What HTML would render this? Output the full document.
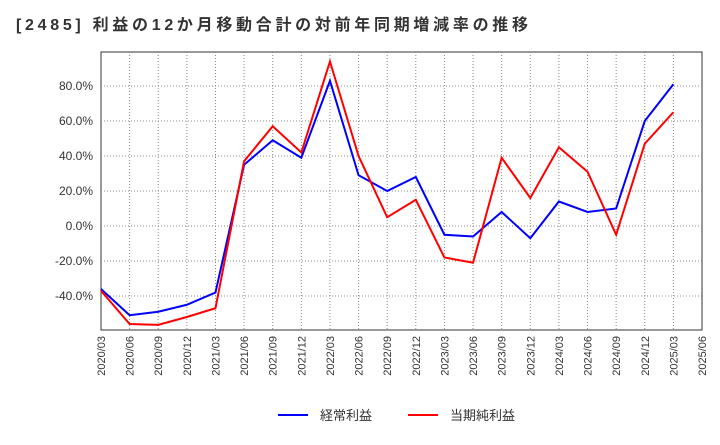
<!DOCTYPE html>
<html><head><meta charset="utf-8"><style>
body{margin:0;background:#fff;}
svg text{font-family:"Liberation Sans","Noto Sans CJK JP",sans-serif;}
</style></head><body>
<svg id="c" width="720" height="440" xmlns="http://www.w3.org/2000/svg">
<text x="16" y="30" font-size="16" font-weight="bold" fill="#333" textLength="512" lengthAdjust="spacing">[2485]  利益の12か月移動合計の対前年同期増減率の推移</text>
<rect x="101" y="52" width="601" height="278" fill="none" stroke="#333"/>
<g id="grid"></g><g id="yt"></g><g id="xt"></g><g id="ser"></g>
<g>
<line x1="278" y1="415" x2="308" y2="415" stroke="#0000ff" stroke-width="2"/>
<text x="320" y="420" font-size="13" fill="#333">経常利益</text>
<line x1="408" y1="415" x2="438" y2="415" stroke="#ff0000" stroke-width="2"/>
<text x="450" y="420" font-size="13" fill="#333">当期純利益</text>
</g>
</svg>
<script>
const xLabels=["2020/03","2020/06","2020/09","2020/12","2021/03","2021/06","2021/09","2021/12","2022/03","2022/06","2022/09","2022/12","2023/03","2023/06","2023/09","2023/12","2024/03","2024/06","2024/09","2024/12","2025/03","2025/06"];
const yTicks=[-40,-20,0,20,40,60,80];
const keijo=[-36,-51,-49,-45,-38,35,49,39,83,29,20,28,-5,-6,8,-7,14,8,10,60,81];
const junrieki=[-37,-56,-56.5,-52,-47,37,57,42,94,40,5,15,-18,-21,39,16,45,31,-5,47,65];
const NS="http://www.w3.org/2000/svg";
const X=i=>101+i*(601/21), Y=v=>226-v*1.75;
function mk(t,a,p){const e=document.createElementNS(NS,t);for(const k in a)e.setAttribute(k,a[k]);p.appendChild(e);return e;}
const g=document.getElementById('grid'),yt=document.getElementById('yt'),xt=document.getElementById('xt'),s=document.getElementById('ser');
yTicks.forEach(v=>{const l=mk('line',{x1:101,x2:702,y1:Y(v),y2:Y(v),stroke:'#888','stroke-dasharray':'1,2'},g);

const t=mk('text',{x:93,y:Y(v)+4,'text-anchor':'end','font-size':12,fill:'#333'},yt);t.textContent=v.toFixed(1)+'%';
});
xLabels.forEach((lb,i)=>{if(i>0&&i<21){const l=mk('line',{x1:X(i),x2:X(i),y1:52,y2:330,stroke:'#888','stroke-dasharray':'1,2'},g);
}
const t=mk('text',{x:0,y:0,'text-anchor':'end','font-size':11,fill:'#333',transform:`translate(${X(i)+4},336) rotate(-90)`},xt);t.textContent=lb;
});
[[keijo,'#0000ff','series-keijo'],[junrieki,'#ff0000','series-junrieki']].forEach(([d,c,n])=>{
const p=mk('polyline',{points:d.map((v,i)=>X(i)+','+Y(v)).join(' '),fill:'none',stroke:c,'stroke-width':2},s);
});
</script>
</body></html>
